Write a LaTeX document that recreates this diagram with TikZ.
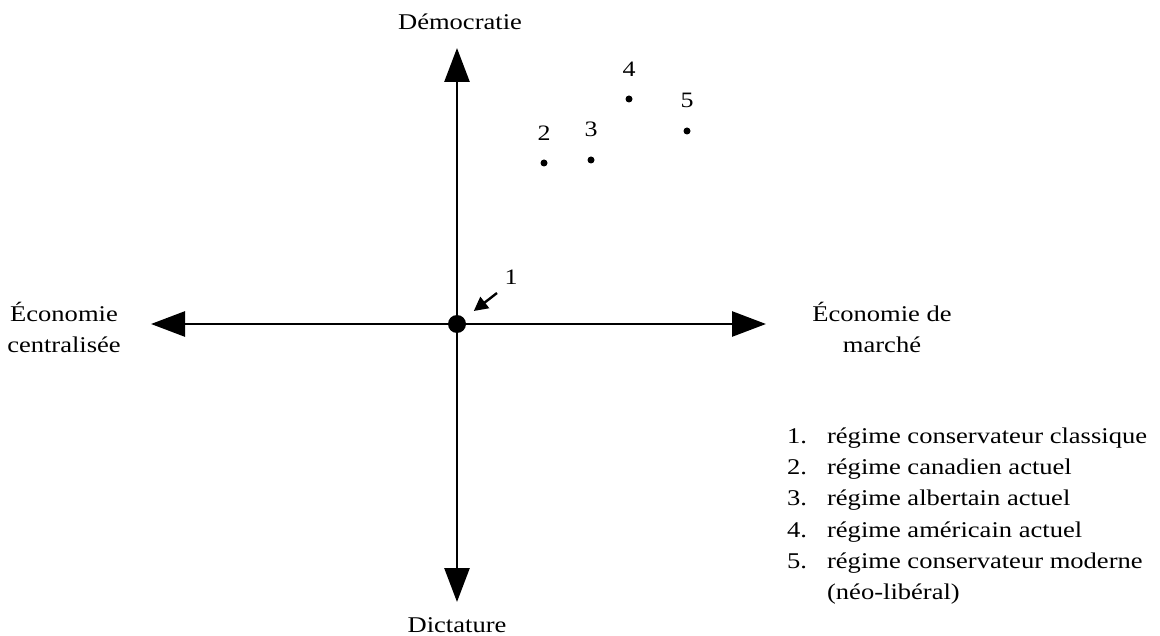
\documentclass[tikz,border=0pt]{standalone}
\usepackage{fontspec}
\setmainfont{Liberation Serif}[FakeStretch=1.18]
\usetikzlibrary{arrows.meta, positioning}

\begin{document}
\begin{tikzpicture}[x=1pt, y=-1pt,
  axe/.style={line width=2.7pt, -{Triangle[length=34pt, width=25pt]}},
  fleche/.style={line width=2.4pt, -{Triangle[length=14pt, width=14pt]}},
  point/.style={circle, fill, inner sep=0pt, minimum size=7pt},
  titre/.style={font=\fontsize{22.5}{31.4}\selectfont, inner sep=0pt, align=center},
  num/.style={font=\fontsize{22}{26}\selectfont, inner sep=0pt}]
  \useasboundingbox (0,0) rectangle (1160,636);

  % axes
  \node[circle, fill, inner sep=0pt, minimum size=18pt] (O) at (457,324) {};
  \coordinate (N) at (457,48);
  \coordinate (S) at (457,602);
  \coordinate (W) at (151,324);
  \coordinate (E) at (766,324);
  \draw[axe] (O.center) -- (N);
  \draw[axe] (O.center) -- (S);
  \draw[axe] (O.center) -- (W);
  \draw[axe] (O.center) -- (E);

  \node[titre, anchor=base] (haut) at (460,30) {Démocratie};
  \node[titre, anchor=base] (bas) at (457,632) {Dictature};
  \node[titre, anchor=base] (gauche) at (64,353) {Économie\\centralisée};
  \node[titre, anchor=base] (droite) at (882,353) {Économie de\\marché};

  % regimes
  \node[num, anchor=base] (L1) at (511,285) {1};
  \coordinate (F1) at (497,293);
  \draw[fleche, shorten >=12pt] (F1) -- (O);
  \foreach \n/\x/\y in {2/544/163, 3/591/160, 4/629/99, 5/687/131} {
    \node[point] (P\n) at (\x,\y) {};
    \node[num, above=19pt of P\n] (L\n) {\n};
  }

  % legende
  \node[titre, align=left, anchor=base west] (legende) at (787,443) {%
    \begin{tabular}[t]{@{}l@{\hspace{20pt}}l@{}}
      1. & régime conservateur classique\\
      2. & régime canadien actuel\\
      3. & régime albertain actuel\\
      4. & régime américain actuel\\
      5. & régime conservateur moderne\\
         & (néo-libéral)
    \end{tabular}};
\end{tikzpicture}
\end{document}
